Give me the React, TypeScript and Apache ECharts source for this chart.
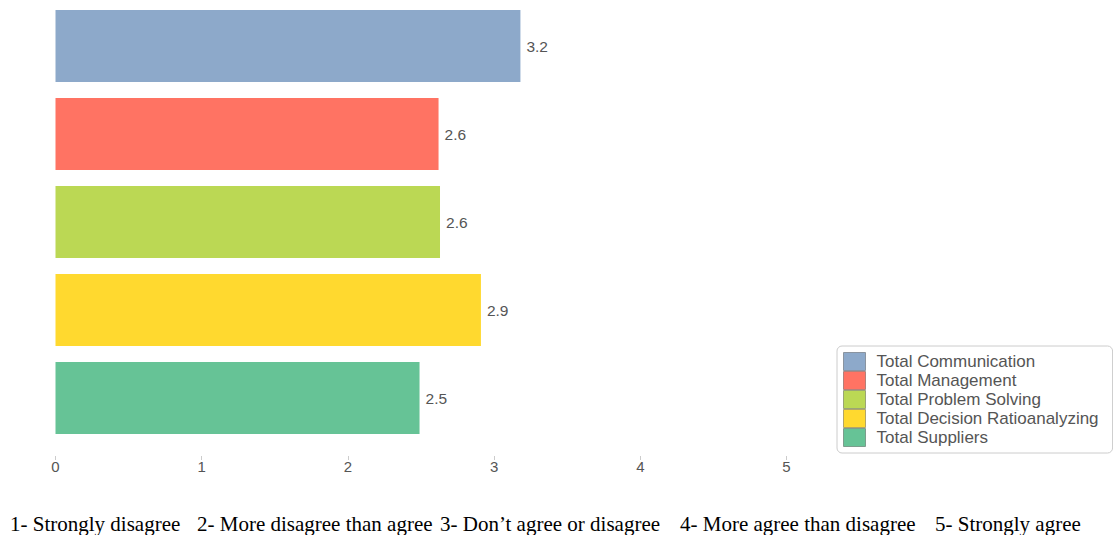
import React, { useEffect, useRef } from "react";
import * as echarts from "echarts";

const categories = [
  "Total Communication",
  "Total Management",
  "Total Problem Solving",
  "Total Decision Ratioanalyzing",
  "Total Suppliers",
];
const values = [3.18, 2.62, 2.63, 2.91, 2.49];
const colors = ["#8DA9CA", "#FF7363", "#BBD854", "#FFD92F", "#66C396"];
const xTicks = [0, 1, 2, 3, 4, 5];
const scaleNotes = [
  "1- Strongly disagree",
  "2- More disagree than agree",
  "3- Don\u2019t agree or disagree",
  "4- More agree than disagree",
  "5- Strongly agree",
];
const noteX = [10, 197, 440, 680, 935];

export default function App() {
  const ref = useRef<HTMLDivElement>(null);
  useEffect(() => {
    if (!ref.current) return;
    const chart = echarts.init(ref.current, null, { renderer: "svg" });
    const series = categories.map((name, i) => ({
      name,
      type: "bar",
      stack: "all",
      barWidth: 72,
      data: categories.map((_, j) => (j === i ? values[i] : null)),
      itemStyle: { color: colors[i] },
      label: {
        show: true,
        position: "right",
        distance: 6,
        color: "#555",
        fontSize: 15.5,
        fontFamily: "Liberation Sans, Arial, sans-serif",
        formatter: (p: any) => (p.value == null ? "" : Number(p.value).toFixed(1)),
      },
    }));
    chart.setOption({
      animation: false,
      backgroundColor: "#fff",
      grid: { left: 55.5, right: 326.5, top: 2, bottom: 93 },
      xAxis: {
        type: "value",
        min: xTicks[0],
        max: xTicks[xTicks.length - 1],
        interval: 1,
        offset: 14,
        axisLine: { show: false },
        axisTick: { show: true, length: 4, lineStyle: { color: "#ccc" } },
        splitLine: { show: false },
        axisLabel: {
          margin: 3,
          color: "#555",
          fontSize: 15,
          fontFamily: "Liberation Sans, Arial, sans-serif",
        },
      },
      yAxis: {
        type: "category",
        data: categories,
        inverse: true,
        axisLine: { show: false },
        axisTick: { show: false },
        axisLabel: { show: false },
      },
      legend: {
        orient: "vertical",
        left: 837,
        top: 346,
        itemWidth: 22,
        itemHeight: 18,
        itemGap: 0,
        padding: [6, 14, 6, 6],
        borderColor: "#ccc",
        borderWidth: 1,
        borderRadius: 5,
        icon: "rect",
        itemStyle: { borderColor: "rgba(0,0,0,0.3)", borderWidth: 1 },
        textStyle: {
          color: "#555",
          fontSize: 17,
          lineHeight: 18,
          fontFamily: "Liberation Sans, Arial, sans-serif",
          padding: [0, 0, 0, 6],
        },
        data: categories,
      },
      graphic: scaleNotes.map((t, i) => ({
        type: "text",
        x: noteX[i],
        y: 524,
        style: {
          text: t,
          fill: "#000",
          font: '21px "Liberation Serif", "Times New Roman", serif',
          verticalAlign: "middle",
        },
      })),
      series,
    });
    return () => chart.dispose();
  }, []);
  return (
    <div
      ref={ref}
      style={{ position: "absolute", left: 0, top: 0, width: 1113, height: 535 }}
    />
  );
}
